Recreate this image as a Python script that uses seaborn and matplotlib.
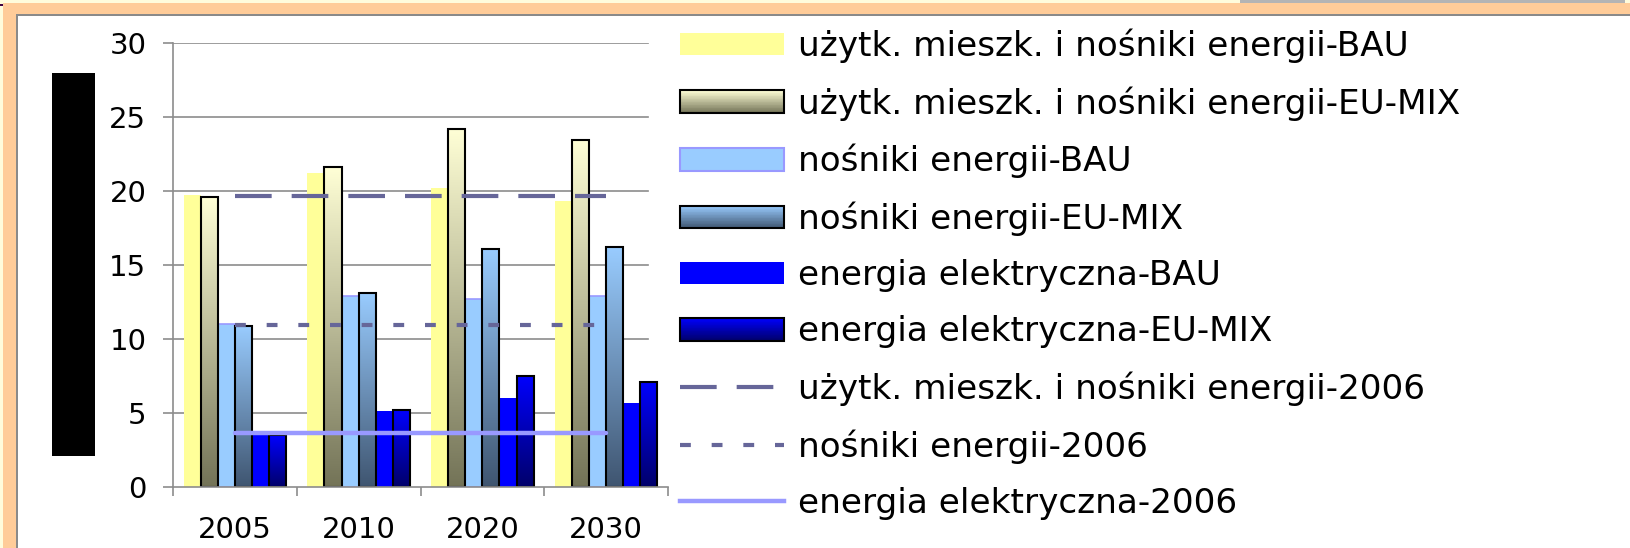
import numpy as np
import pandas as pd
import matplotlib
matplotlib.use("Agg")
import matplotlib.pyplot as plt
import seaborn as sns
from matplotlib.colors import LinearSegmentedColormap
from matplotlib.patches import Rectangle, Patch
from matplotlib.lines import Line2D
from matplotlib.legend_handler import HandlerBase

# --- data ---
years = ["2005", "2010", "2020", "2030"]
series = [
    "użytk. mieszk. i nośniki energii-BAU",
    "użytk. mieszk. i nośniki energii-EU-MIX",
    "nośniki energii-BAU",
    "nośniki energii-EU-MIX",
    "energia elektryczna-BAU",
    "energia elektryczna-EU-MIX",
]
total_bau = [19.7, 21.2, 20.2, 19.3]
total_eumix = [19.6, 21.6, 24.2, 23.4]
carriers_bau = [11.0, 12.9, 12.7, 12.9]
carriers_eumix = [10.9, 13.1, 16.1, 16.2]
elec_bau = [3.5, 5.1, 6.0, 5.7]
elec_eumix = [3.5, 5.2, 7.5, 7.1]

ref_labels = [
    "użytk. mieszk. i nośniki energii-2006",
    "nośniki energii-2006",
    "energia elektryczna-2006",
]
ref_total_2006 = [19.65, 19.65, 19.65, 19.65]
ref_carriers_2006 = [10.95, 10.95, 10.95, 10.95]
ref_elec_2006 = [3.65, 3.65, 3.65, 3.65]

values = [total_bau, total_eumix, carriers_bau, carriers_eumix, elec_bau, elec_eumix]
df = pd.DataFrame(
    [(y, s, v[i]) for s, v in zip(series, values) for i, y in enumerate(years)],
    columns=["year", "series", "value"],
)

# base colours; EU-MIX series get a vertical gradient (top, bottom)
base_colors = ["#FFFF99", "#D8D6AE", "#99CCFF", "#7A9CC4", "#0000FF", "#0000B0"]
gradients = {
    1: ("#FFFFD6", "#737357"),
    3: ("#99CCFF", "#3F5570"),
    5: ("#0000FF", "#00006A"),
}
W, H = 1630, 548


def px_rect(fig, x0, y0, x1, y1, color, **kw):
    """Rectangle in figure pixels, origin top-left."""
    fig.patches.append(Rectangle((x0 / W, 1 - y1 / H), (x1 - x0) / W, (y1 - y0) / H,
                                 transform=fig.transFigure, facecolor=color,
                                 edgecolor="none", **kw))


def fill_gradient(ax, bar, top, bottom):
    x, y = bar.get_x(), bar.get_y()
    w, h = bar.get_width(), bar.get_height()
    cmap = LinearSegmentedColormap.from_list("g", [bottom, top])
    img = ax.imshow(np.linspace(0, 1, 256).reshape(-1, 1), cmap=cmap, origin="lower",
                    extent=[x, x + w, y, y + h], aspect="auto", zorder=1.1,
                    interpolation="bilinear")
    img.set_clip_path(bar)
    bar.set_facecolor("none")
    bar.set_zorder(1.2)


class HandlerGradient(HandlerBase):
    def __init__(self, top, bottom, steps=30):
        super().__init__()
        self.top, self.bottom, self.steps = top, bottom, steps

    def create_artists(self, legend, orig_handle, xdescent, ydescent, width, height,
                       fontsize, trans):
        cmap = LinearSegmentedColormap.from_list("g", [self.bottom, self.top])
        dh = height / self.steps
        arts = []
        for i in range(self.steps):
            arts.append(Rectangle((-xdescent, -ydescent + i * dh), width, dh * 1.05,
                                  facecolor=cmap((i + 0.5) / self.steps),
                                  edgecolor="none", transform=trans))
        arts.append(Rectangle((-xdescent, -ydescent), width, height, facecolor="none",
                              edgecolor="black", lw=1.5, transform=trans))
        return arts


fig = plt.figure(figsize=(W / 100, H / 100), dpi=100)
fig.patch.set_facecolor("white")

# frame decoration
px_rect(fig, 0, 0, W, 3, "#FFFCDC")
px_rect(fig, 0, 0, 3, H, "#FFFCDC")
px_rect(fig, 1240, 0, 1625, 3, "#B4B4B4")
px_rect(fig, 3, 3, W, 14, "#FFCC99")
px_rect(fig, 3, 3, 17, H, "#FFCC99")
px_rect(fig, 17, 14, W, 15.5, "#8A8A8A")
px_rect(fig, 16, 14, 17.5, H, "#8A8A8A")
px_rect(fig, 0, 4, 3, 6, "#400040")
# redacted axis title block
px_rect(fig, 52, 73, 95, 456, "black")

ax = fig.add_axes([173 / W, 1 - 487 / H, (668 - 173) / W, (487 - 42.7) / H])
ax.set_facecolor("none")

sns.barplot(data=df, x="year", y="value", hue="series", hue_order=series,
            palette=base_colors, width=0.83, gap=0, saturation=1, ax=ax,
            legend=False, linewidth=0)

for i, cont in enumerate(ax.containers):
    for bar in cont:
        if i in gradients:
            bar.set_edgecolor("black")
            bar.set_linewidth(1.5)
            fill_gradient(ax, bar, *gradients[i])
        elif i == 2:
            bar.set_edgecolor("#9999FF")
            bar.set_linewidth(1.2)

xs = np.arange(len(years))
dash_kw = dict(lw=3.0, dash_capstyle="butt", solid_capstyle="butt", zorder=4)
ax.plot(xs, ref_total_2006, color="#666699", dashes=(8.8, 4.8), **dash_kw)
ax.plot(xs, ref_carriers_2006, color="#666699", dashes=(2.6, 5.0), **dash_kw)
ax.plot(xs, ref_elec_2006, color="#9999FF", lw=3.2, solid_capstyle="round", zorder=4)

ax.set_xlim(-0.5, 3.5)
ax.set_ylim(0, 30)
ax.set_yticks(range(0, 31, 5))
for v in range(5, 31, 5):
    ax.axhline(v, xmin=0, xmax=0.96, color="#8C8C8C", lw=1.2, zorder=0.5)

ax.set_xlabel("")
ax.set_ylabel("")
for side in ["top", "right"]:
    ax.spines[side].set_visible(False)
for side in ["left", "bottom"]:
    ax.spines[side].set_color("#8C8C8C")
    ax.spines[side].set_linewidth(1.2)

ax.set_xticks(xs)
ax.set_xticklabels(years)
ax.set_xticks(np.arange(-0.5, 4.0, 1.0), minor=True)
ax.tick_params(axis="x", which="major", length=0, pad=21, labelsize=21)
ax.tick_params(axis="x", which="minor", length=6.5, width=1.2, color="#8C8C8C",
               direction="out")
ax.tick_params(axis="y", length=7.2, width=1.2, color="#8C8C8C", direction="out",
               pad=12, labelsize=21)

# legend
leg_handles = [
    Patch(facecolor=base_colors[0], edgecolor="none"),
    Patch(facecolor=base_colors[1]),
    Patch(facecolor=base_colors[2], edgecolor="#9999FF", lw=1.5),
    Patch(facecolor=base_colors[3]),
    Patch(facecolor=base_colors[4], edgecolor="none"),
    Patch(facecolor=base_colors[5]),
    Line2D([], [], color="#666699", dashes=(8.8, 4.8), **dash_kw),
    Line2D([], [], color="#666699", dashes=(2.6, 5.0), **dash_kw),
    Line2D([], [], color="#9999FF", lw=3.2),
]
handler_map = {leg_handles[i]: HandlerGradient(*gradients[i]) for i in gradients}
fs = 24.7
fig.legend(leg_handles, series + ref_labels, loc="upper left",
           bbox_to_anchor=(680 / W, 1 - 28.5 / H), frameon=False, borderpad=0,
           borderaxespad=0, fontsize=fs, handlelength=104 / (fs * 100 / 72),
           handleheight=0.64, handletextpad=0.42, labelspacing=0.675,
           handler_map=handler_map)

fig.savefig("out.png", dpi=100)
